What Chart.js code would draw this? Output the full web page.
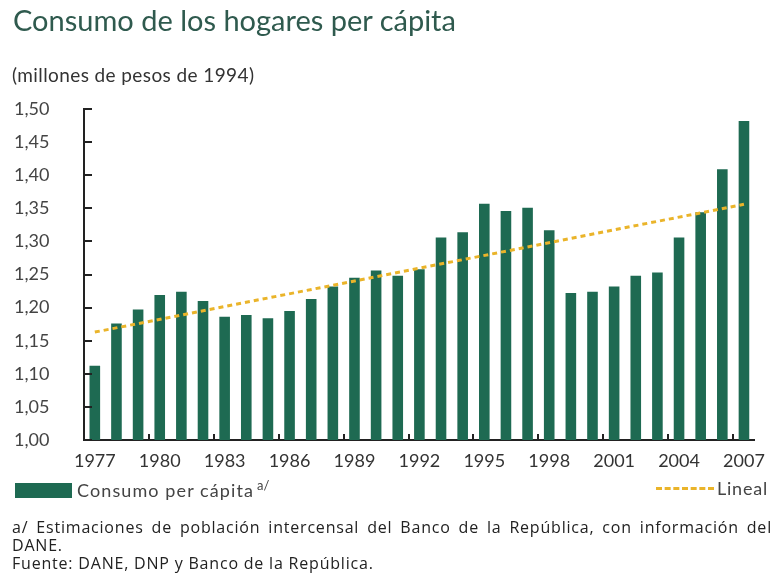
<!DOCTYPE html>
<html>
<head>
<meta charset="utf-8">
<script src="https://cdn.jsdelivr.net/npm/chart.js@4"></script>
<style>
  body { margin: 0; background: #fff; font-family: Lato, 'Open Sans', sans-serif; }
  #wrap { position: relative; width: 775px; height: 577px; overflow: hidden; }
  canvas { position: absolute; left: 0; top: 0; }
  .title { position: absolute; left: 13px; top: 2px; font-size: 29px; color: #2f5a4e; }
  .unit { position: absolute; left: 12px; top: 63px; font-size: 19px; letter-spacing: 0.4px; color: #333; }
  .leg1 { position: absolute; left: 15px; top: 477px; font-size: 18px; color: #444; }
  .leg1 .box { display: inline-block; width: 57px; height: 15px; background: #1e6a52; vertical-align: -1px; margin-right: 5px; }
  .leg1 .txt { letter-spacing: 1.1px; }
  .leg1 sup { font-size: 13px; margin-left: 3px; }
  .leg2 { position: absolute; right: 7px; top: 477px; font-size: 18px; letter-spacing: 0.8px; color: #444; }
  .leg2 .dash { display: inline-block; width: 58px; border-top: 3px dashed #eab42a; vertical-align: 5px; margin-right: 3px; }
  .note { position: absolute; left: 12px; width: 760px; font-family: 'Open Sans', sans-serif; font-size: 16px; letter-spacing: 0.8px; color: #222; }
  .just { text-align: justify; text-align-last: justify; }
</style>
</head>
<body>
<div id="wrap">
  <canvas id="c" width="775" height="577"></canvas>
  <div class="title">Consumo de los hogares per cápita</div>
  <div class="unit">(millones de pesos de 1994)</div>
  <div class="leg1"><span class="box"></span><span class="txt">Consumo per cápita</span><sup>a/</sup></div>
  <div class="leg2"><span class="dash"></span>Lineal</div>
  <div class="note just" style="top:516px">a/ Estimaciones de población intercensal del Banco de la República, con información del</div>
  <div class="note" style="top:534px">DANE.</div>
  <div class="note" style="top:552px">Fuente: DANE, DNP y Banco de la República.</div>
</div>
<script>
const years = []
for (let y = 1977; y <= 2007; y++) years.push(String(y))

const consumo = [
  1.112, 1.176, 1.197, 1.219, 1.224, 1.210, 1.186, 1.189, 1.184, 1.195,
  1.213, 1.232, 1.245, 1.256, 1.248, 1.258, 1.306, 1.314, 1.357, 1.346,
  1.351, 1.317, 1.222, 1.224, 1.232, 1.248, 1.253, 1.306, 1.344, 1.409,
  1.482
]

// trend line: only the two ends are read, the library joins them
const lineal = years.map(() => null)
lineal[0] = 1.163
lineal[lineal.length - 1] = 1.356

const yTicks = [1.00, 1.05, 1.10, 1.15, 1.20, 1.25, 1.30, 1.35, 1.40, 1.45, 1.50]

const labelYears = ['1977', '1980', '1983', '1986', '1989', '1992', '1995', '1998', '2001', '2004', '2007']

const innerTicks = {
  id: 'innerTicks',
  afterDraw (chart) {
    const { ctx, scales: { x, y }, chartArea } = chart
    ctx.save()
    ctx.strokeStyle = '#222'
    ctx.lineWidth = 2
    yTicks.forEach(v => {
      const py = Math.round(y.getPixelForValue(v))
      ctx.beginPath()
      ctx.moveTo(chartArea.left, py)
      ctx.lineTo(chartArea.left + 8, py)
      ctx.stroke()
    })
    labelYears.slice(1).forEach(lbl => {
      const i = years.indexOf(lbl)
      const px = Math.round(x.getPixelForValue(i) - x.width / years.length / 2)
      ctx.beginPath()
      ctx.moveTo(px, chartArea.bottom)
      ctx.lineTo(px, chartArea.bottom - 6)
      ctx.stroke()
    })
    ctx.restore()
  }
}

new Chart(document.getElementById('c'), {
  type: 'bar',
  data: {
    labels: years,
    datasets: [
      {
        type: 'line',
        label: 'Lineal',
        data: lineal,
        spanGaps: true,
        borderColor: '#eab42a',
        borderWidth: 3,
        borderDash: [5, 4],
        pointRadius: 0,
        order: 0
      },
      {
        label: 'Consumo per cápita',
        data: consumo,
        backgroundColor: '#1e6a52',
        categoryPercentage: 1,
        barPercentage: 0.49,
        order: 1
      }
    ]
  },
  options: {
    responsive: false,
    animation: false,
    layout: { padding: { left: 14, right: 10, top: 109, bottom: 107 } },
    plugins: {
      legend: { display: false },
      tooltip: { enabled: false }
    },
    scales: {
      x: {
        afterFit: s => { s.height = 30 },
        grid: { display: false, drawTicks: false },
        border: { display: true, color: '#222', width: 2 },
        ticks: {
          autoSkip: false,
          maxRotation: 0,
          padding: 10,
          color: '#333',
          font: { family: 'Lato', size: 18 },
          callback: function (v, i) { return labelYears.includes(years[i]) ? years[i] : '' }
        }
      },
      y: {
        min: 1,
        max: 1.5,
        afterFit: s => { s.width = 70 },
        afterBuildTicks: s => { s.ticks = yTicks.map(v => ({ value: v })) },
        grid: { display: false, drawTicks: false },
        border: { display: true, color: '#222', width: 2 },
        ticks: {
          crossAlign: 'far',
          padding: 8,
          color: '#444',
          font: { family: 'Lato', size: 18 },
          callback: v => v.toFixed(2).replace('.', ',')
        }
      }
    }
  },
  plugins: [innerTicks]
})
</script>
</body>
</html>
